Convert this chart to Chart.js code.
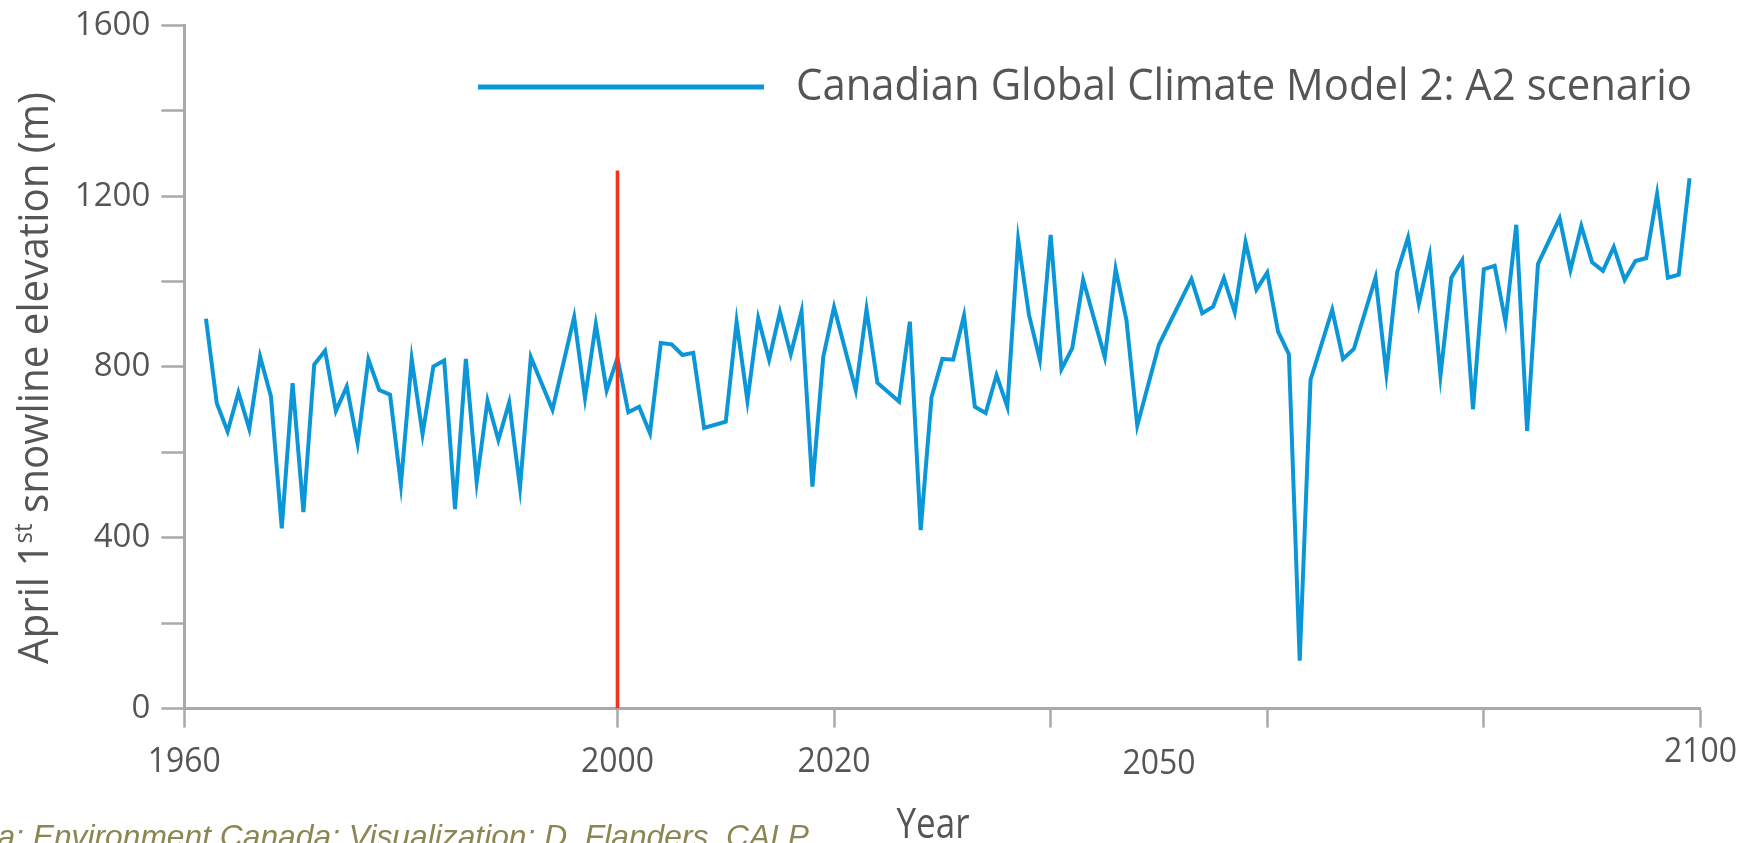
<!DOCTYPE html>
<html>
<head>
<meta charset="utf-8">
<title>April 1st snowline elevation</title>
<script src="https://cdn.jsdelivr.net/npm/chart.js@4/dist/chart.umd.min.js"></script>
<style>
  html, body { margin: 0; padding: 0; background: #ffffff; }
  #wrap { width: 1763px; height: 843px; position: relative; overflow: hidden; }
</style>
</head>
<body>
<div id="wrap"><canvas id="chart" width="1763" height="843"></canvas></div>
<script>
// Modelled April 1st snowline elevation (m), CGCM2 A2 run
const years = [
  1962, 1963, 1964, 1965, 1966, 1967, 1968, 1969, 1970, 1971,
  1972, 1973, 1974, 1975, 1976, 1977, 1978, 1979, 1980, 1981,
  1982, 1983, 1984, 1985, 1986, 1987, 1988, 1989, 1990, 1991,
  1992, 1994, 1996, 1997, 1998, 1999, 2000, 2001, 2002, 2003,
  2004, 2005, 2006, 2007, 2008, 2010, 2011, 2012, 2013, 2014,
  2015, 2016, 2017, 2018, 2019, 2020, 2022, 2023, 2024, 2026,
  2027, 2028, 2029, 2030, 2031, 2032, 2033, 2034, 2035, 2036,
  2037, 2038, 2039, 2040, 2041, 2042, 2043, 2045, 2046, 2047,
  2048, 2050, 2053, 2054, 2055, 2056, 2057, 2058, 2059, 2060,
  2061, 2062, 2063, 2064, 2066, 2067, 2068, 2070, 2071, 2072,
  2073, 2074, 2075, 2076, 2077, 2078, 2079, 2080, 2081, 2082,
  2083, 2084, 2085, 2087, 2088, 2089, 2090, 2091, 2092, 2093,
  2094, 2095, 2096, 2097, 2098, 2099
];
const elevation = [
  913, 715, 649, 740, 655, 824, 731, 422, 762, 460,
  806, 838, 697, 754, 621, 818, 746, 735, 524, 818,
  643, 801, 815, 467, 819, 531, 721, 629, 717, 518,
  823, 700, 917, 727, 900, 745, 821, 694, 707, 645,
  856, 853, 828, 833, 657, 672, 906, 721, 914, 817,
  928, 830, 930, 520, 823, 940, 746, 935, 763, 719,
  906, 418, 729, 819, 817, 920, 707, 692, 781, 707,
  1098, 922, 817, 1109, 795, 844, 1004, 823, 1029, 910,
  663, 852, 1006, 926, 941, 1008, 928, 1092, 981, 1021,
  883, 830, 112, 770, 934, 819, 842, 1009, 785, 1022,
  1103, 948, 1060, 780, 1009, 1050, 701, 1029, 1037, 906,
  1133, 650, 1041, 1148, 1027, 1130, 1045, 1025, 1081, 1004,
  1048, 1055, 1205, 1009, 1016, 1242
];

// Present-day marker
const markerYears = [2000, 2000];
const markerValues = [0, 1260];

// Axis ticks
const xTickMarks = [1960, 2000, 2020, 2040, 2060, 2080, 2100];
const xTickLabels = [1960, 2000, 2020, 2050, 2100];
const yMin = 0, yMax = 1600, yStep = 200, yLabelStep = 400;

const seriesLabel = 'Canadian Global Climate Model 2: A2 scenario';
const xTitle = 'Year';
const sourceNote = 'Data: Environment Canada; Visualization: D. Flanders, CALP';

const BLUE = '#0a96d7';
const RED = '#f2321c';
const AXIS = '#a9a9a9';
const TEXT = '#555555';
const FONT = "'Open Sans', 'Noto Sans', sans-serif";

const toPoints = (xs, ys) => xs.map((x, i) => ({ x: x, y: ys[i] }));

// Draws a string squeezed horizontally to a given width
function drawFitted(ctx, text, x, y, size, width, align) {
  ctx.font = size + 'px ' + FONT;
  const w = ctx.measureText(text).width;
  const k = width ? width / w : 1;
  ctx.save();
  ctx.translate(x, y);
  ctx.scale(k, 1);
  ctx.textAlign = align || 'center';
  ctx.textBaseline = 'alphabetic';
  ctx.fillText(text, 0, 0);
  ctx.restore();
}

// Y axis title with a superscript ordinal
const yTitlePlugin = {
  id: 'yTitle',
  afterDraw(chart) {
    const ctx = chart.ctx;
    const parts = [
      { t: 'April 1', size: 42, rise: 0 },
      { t: 'st', size: 25, rise: 16 },
      { t: ' snowline elevation (m)', size: 42, rise: 0 }
    ];
    ctx.save();
    let total = 0;
    parts.forEach(p => {
      ctx.font = p.size + 'px ' + FONT;
      p.w = ctx.measureText(p.t).width;
      total += p.w;
    });
    ctx.translate(48, 378);
    ctx.rotate(-Math.PI / 2);
    ctx.scale(572 / total, 1);
    ctx.fillStyle = TEXT;
    ctx.textBaseline = 'alphabetic';
    ctx.textAlign = 'left';
    let x = -total / 2;
    parts.forEach(p => {
      ctx.font = p.size + 'px ' + FONT;
      ctx.fillText(p.t, x, -p.rise);
      x += p.w;
    });
    ctx.restore();
  }
};

// Year labels under the axis and the axis title
const xLabelPlugin = {
  id: 'xLabels',
  afterDraw(chart) {
    const ctx = chart.ctx;
    const xs = chart.scales.x;
    const base = xs.bottom - xs.height + 63;   // baseline below the axis line
    const nudge = { 2050: 2, 2100: -10 };
    ctx.save();
    ctx.fillStyle = TEXT;
    xTickLabels.forEach(v => {
      const px = xs.getPixelForValue(v);
      drawFitted(ctx, String(v), px, base + (nudge[v] || 0), 34, 73, 'center');
    });
    drawFitted(ctx, xTitle, 933, 838, 42, 73, 'center');
    ctx.restore();
  }
};

// Series key drawn inside the plot, plus the source credit
const keyPlugin = {
  id: 'seriesKey',
  afterDraw(chart) {
    const ctx = chart.ctx;
    const ds = chart.data.datasets.find(d => d.label === seriesLabel);
    ctx.save();
    ctx.strokeStyle = ds.borderColor;
    ctx.lineWidth = 5;
    ctx.beginPath();
    ctx.moveTo(478, 87);
    ctx.lineTo(764, 87);
    ctx.stroke();

    ctx.fillStyle = TEXT;
    drawFitted(ctx, ds.label, 796, 100, 43, 896, 'left');

    // credit line, running off the bottom-left edge
    const tail = sourceNote.slice(3);
    ctx.font = 'italic 30px "Liberation Sans", Arial, sans-serif';
    const wt = ctx.measureText(tail).width;
    const cs = 30 * 812 / wt;
    ctx.font = 'italic ' + cs.toFixed(2) + 'px "Liberation Sans", Arial, sans-serif';
    ctx.fillStyle = '#8c8652';
    ctx.textAlign = 'right';
    ctx.textBaseline = 'alphabetic';
    ctx.fillText(sourceNote, 809, 847);
    ctx.restore();
  }
};

const chart = new Chart(document.getElementById('chart'), {
  type: 'line',
  data: {
    datasets: [
      {
        label: 'Year 2000',
        data: toPoints(markerYears, markerValues),
        borderColor: RED,
        borderWidth: 3.6,
        pointRadius: 0,
        order: 0
      },
      {
        label: seriesLabel,
        data: toPoints(years, elevation),
        borderColor: BLUE,
        borderWidth: 4,
        borderJoinStyle: 'miter',
        pointRadius: 0,
        tension: 0,
        order: 1
      }
    ]
  },
  options: {
    responsive: false,
    animation: false,
    devicePixelRatio: 1,
    layout: { padding: { left: 0, top: 25.3, right: 62.6, bottom: 0 } },
    plugins: {
      legend: { display: false },
      tooltip: { enabled: false }
    },
    scales: {
      x: {
        type: 'linear',
        min: 1960,
        max: 2100,
        afterBuildTicks(scale) {
          scale.ticks = xTickMarks.map(v => ({ value: v }));
        },
        afterFit(scale) {
          scale.height = 134.4;
          scale.paddingLeft = 0;
          scale.paddingRight = 0;
        },
        border: { display: true, color: AXIS, width: 3 },
        grid: {
          drawOnChartArea: false,
          drawTicks: true,
          tickLength: 19,
          tickWidth: 2.5,
          tickColor: AXIS
        },
        ticks: {
          autoSkip: false,
          maxRotation: 0,
          display: false
        },
        title: { display: false }
      },
      y: {
        min: yMin,
        max: yMax,
        afterFit(scale) {
          scale.width = 184.3;
          scale.paddingTop = 0;
          scale.paddingBottom = 0;
        },
        border: { display: true, color: AXIS, width: 3 },
        grid: {
          drawOnChartArea: false,
          drawTicks: true,
          tickLength: 23,
          tickWidth: 2.5,
          tickColor: AXIS
        },
        ticks: {
          stepSize: yStep,
          padding: 11,
          color: TEXT,
          font: { family: FONT, size: 33 },
          callback: (v) => (v % yLabelStep === 0) ? String(v) : ''
        }
      }
    }
  },
  plugins: [yTitlePlugin, xLabelPlugin, keyPlugin]
});
</script>
</body>
</html>
